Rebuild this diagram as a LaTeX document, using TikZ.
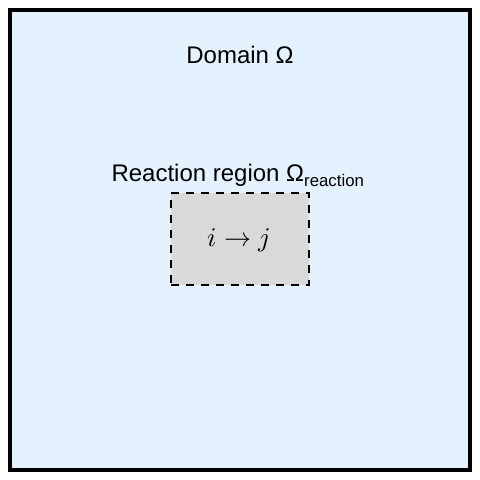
\documentclass[tikz,border=0pt]{standalone}
\usepackage{fontspec}
\setmainfont{Liberation Sans}
\usepackage{amsmath}
\usepackage{unicode-math}
\setmathfont{Latin Modern Math}
\definecolor{domainblue}{HTML}{E4F1FE}
\definecolor{regiongray}{HTML}{D9D9D9}
\tikzset{label text/.style={inner sep=0pt, anchor=base, font=\fontsize{24}{28}\selectfont}}

\begin{document}
\begin{tikzpicture}[x=1pt,y=-1pt]
\useasboundingbox (0,0) rectangle (480,480);
\node[draw=black, line width=3.5pt, fill=domainblue, minimum width=460pt, minimum height=460pt, inner sep=0pt] (Domain) at (240,240) {};
\node[draw=black, dash pattern=on 8pt off 7pt, line width=1.5pt, fill=regiongray, minimum width=138pt, minimum height=92pt, inner sep=0pt] (Region) at (240,239) {};

\node[label text] (DL) at (240,63) {Domain Ω};
\node[label text] (RL) at (238,181) {Reaction region Ω\textsubscript{reaction}};
\node[inner sep=0pt, font=\fontsize{27}{30}\selectfont] (IJ) at (239,240) {$i \rightarrow j$};
\end{tikzpicture}
\end{document}
